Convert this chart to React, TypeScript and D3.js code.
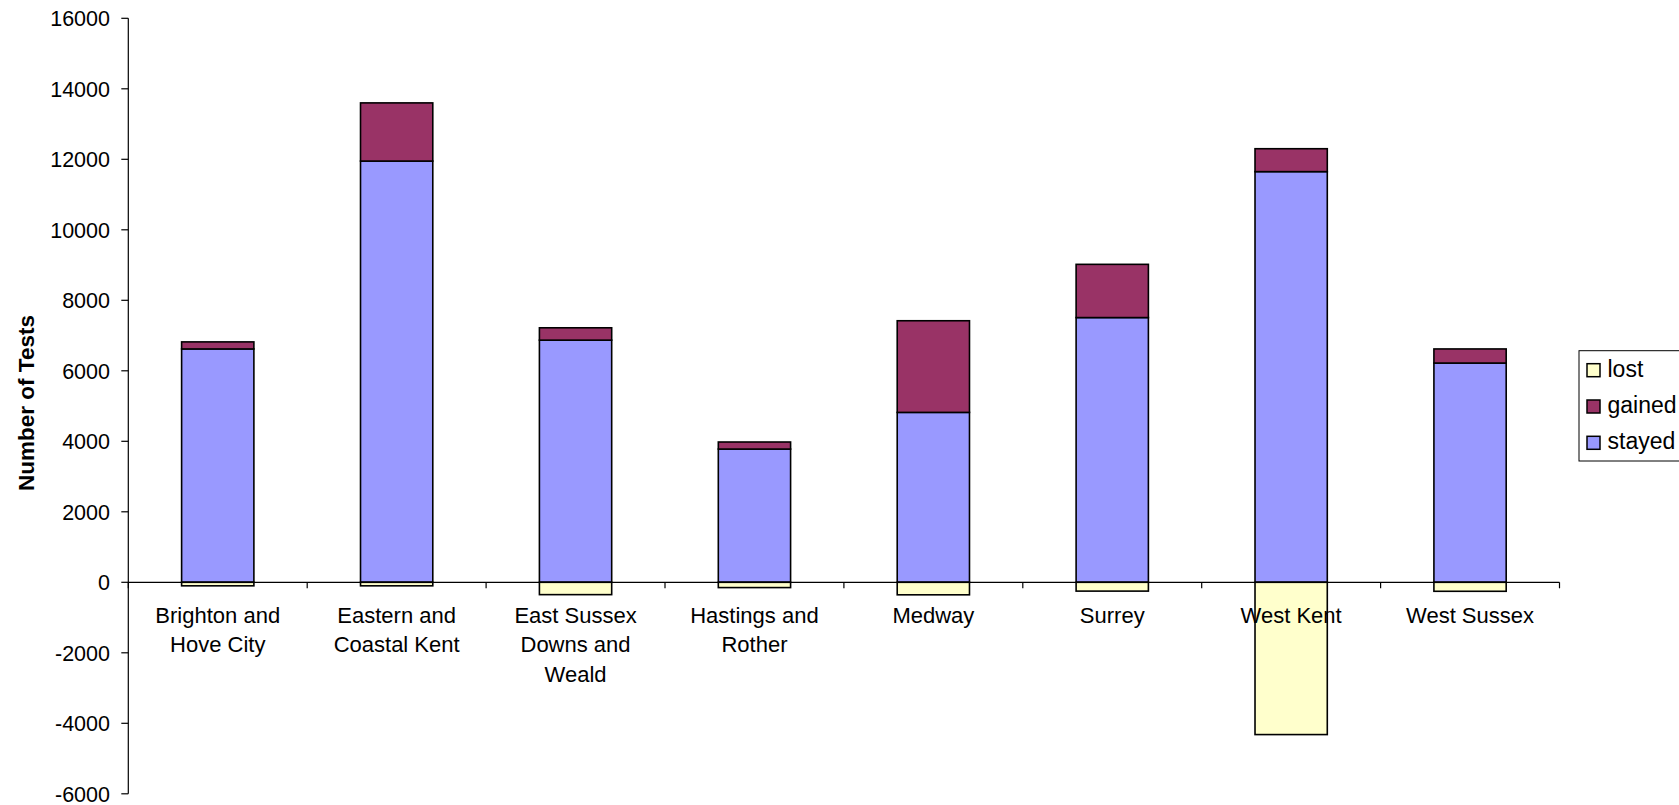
import React from "react";
import * as d3 from "d3";

const categories: string[][] = [
  ["Brighton and", "Hove City"],
  ["Eastern and", "Coastal Kent"],
  ["East Sussex", "Downs and", "Weald"],
  ["Hastings and", "Rother"],
  ["Medway"],
  ["Surrey"],
  ["West Kent"],
  ["West Sussex"],
];
const stayed = [6620, 11950, 6870, 3780, 4820, 7510, 11650, 6220];
const gained = [200, 1650, 350, 200, 2600, 1510, 650, 400];
const lost = [-100, -100, -350, -150, -355, -250, -4320, -255];
const yTicks = [16000, 14000, 12000, 10000, 8000, 6000, 4000, 2000, 0, -2000, -4000, -6000];
const legendItems = ["lost", "gained", "stayed"];

const COLORS: Record<string, string> = {
  stayed: "#9999FF",
  gained: "#993366",
  lost: "#FFFFCC",
};

const FONT = "'Liberation Sans', Arial, Helvetica, sans-serif";

export default function App() {
  const W = 1679;
  const H = 805;
  const x0 = 128.3;
  const x1 = 1559.5;
  const x = d3
    .scaleBand<number>()
    .domain(d3.range(categories.length))
    .range([x0, x1])
    .paddingInner(0)
    .paddingOuter(0);
  const y = d3.scaleLinear().domain([-6000, 16000]).range([793.8, 18.3]);
  const bw = x.bandwidth() * 0.404;
  const barX = (i: number) => (x(i) as number) + (x.bandwidth() - bw) / 2;

  const rect = (i: number, a: number, b: number, fill: string, key: string) => {
    const ya = y(a);
    const yb = y(b);
    return (
      <rect
        key={key}
        x={barX(i)}
        y={Math.min(ya, yb)}
        width={bw}
        height={Math.abs(yb - ya)}
        fill={fill}
        stroke="#000"
        strokeWidth={1.6}
      />
    );
  };

  const zeroY = y(0);

  return (
    <svg
      width={W}
      height={H}
      style={{ position: "absolute", left: 0, top: 0, background: "#fff" }}
      fontFamily={FONT}
    >
      <rect x={0} y={0} width={W} height={H} fill="#fff" />
      {/* bars */}
      {categories.map((_, i) => (
        <g key={i}>
          {rect(i, 0, stayed[i], COLORS.stayed, "s")}
          {rect(i, stayed[i], stayed[i] + gained[i], COLORS.gained, "g")}
          {rect(i, 0, lost[i], COLORS.lost, "l")}
        </g>
      ))}
      {/* y axis */}
      <line x1={x0} x2={x0} y1={y(16000)} y2={y(-6000)} stroke="#000" strokeWidth={1.2} />
      {yTicks.map((t) => (
        <g key={t}>
          <line x1={x0 - 7} x2={x0} y1={y(t)} y2={y(t)} stroke="#000" strokeWidth={1.2} />
          <text
            x={110}
            y={y(t)}
            dy="0.36em"
            textAnchor="end"
            fontSize={21.5}
            fill="#000"
          >
            {t}
          </text>
        </g>
      ))}
      {/* x axis at zero */}
      <line x1={x0} x2={x1} y1={zeroY} y2={zeroY} stroke="#000" strokeWidth={1.2} />
      {d3.range(categories.length + 1).map((i) => {
        const tx = x0 + i * x.bandwidth();
        return (
          <line key={i} x1={tx} x2={tx} y1={zeroY} y2={zeroY + 6} stroke="#000" strokeWidth={1.2} />
        );
      })}
      {/* category labels */}
      {categories.map((lines, i) => (
        <text
          key={i}
          x={(x(i) as number) + x.bandwidth() / 2}
          y={622.7}
          textAnchor="middle"
          fontSize={22}
          fill="#000"
        >
          {lines.map((ln, j) => (
            <tspan key={j} x={(x(i) as number) + x.bandwidth() / 2} y={622.7 + j * 29.5}>
              {ln}
            </tspan>
          ))}
        </text>
      ))}
      {/* y axis title */}
      <text
        transform={`translate(33.5,403) rotate(-90)`}
        textAnchor="middle"
        fontSize={22.5}
        fontWeight="bold"
        fill="#000"
      >
        Number of Tests
      </text>
      {/* legend */}
      <rect x={1579} y={350.7} width={120} height={110.3} fill="#fff" stroke="#000" strokeWidth={1} />
      {legendItems.map((k, j) => {
        const by = 376.7 + j * 36.3;
        return (
          <g key={k}>
            <rect
              x={1587}
              y={by - 13}
              width={13}
              height={13}
              fill={COLORS[k]}
              stroke="#000"
              strokeWidth={1.5}
            />
            <text x={1607.5} y={by} fontSize={23} fill="#000">
              {k}
            </text>
          </g>
        );
      })}
    </svg>
  );
}
